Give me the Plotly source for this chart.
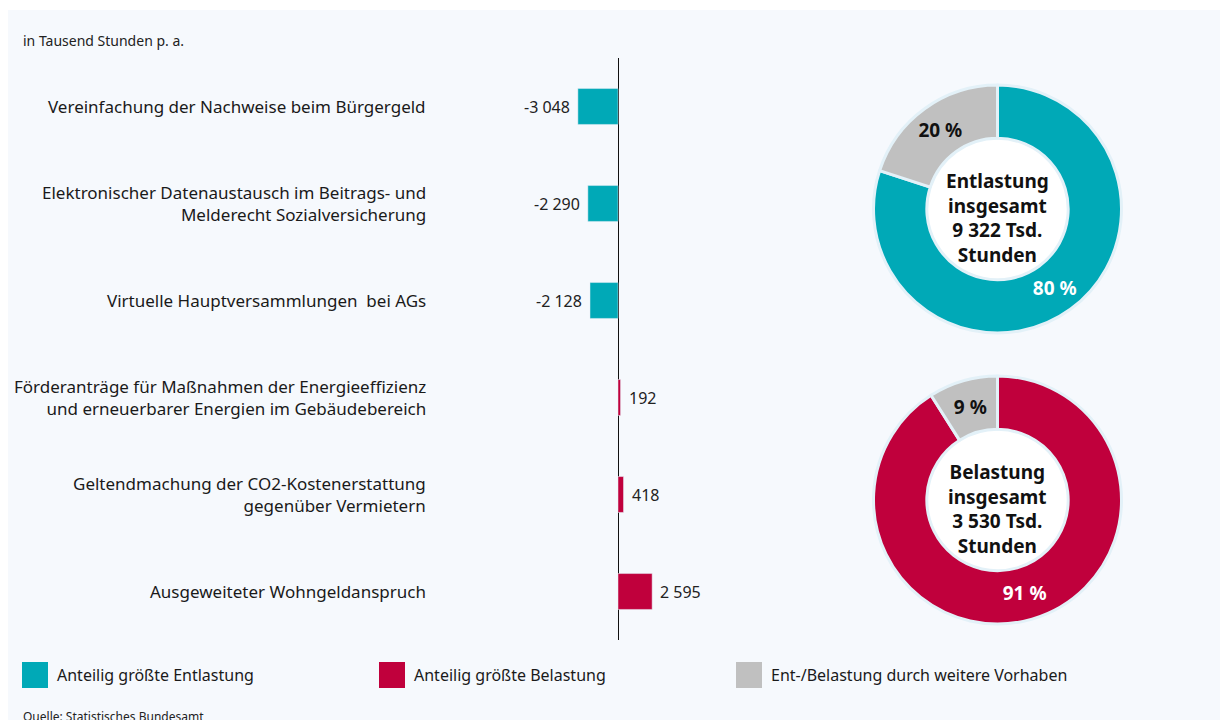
import plotly.graph_objects as go

# Daten
kategorien = [
    "Vereinfachung der Nachweise beim Bürgergeld",
    "Elektronischer Datenaustausch im Beitrags- und<br>Melderecht Sozialversicherung",
    "Virtuelle Hauptversammlungen  bei AGs",
    "Förderanträge für Maßnahmen der Energieeffizienz<br>und erneuerbarer Energien im Gebäudebereich",
    "Geltendmachung der CO2-Kostenerstattung<br>gegenüber Vermietern",
    "Ausgeweiteter Wohngeldanspruch",
]
werte = [-3048, -2290, -2128, 192, 418, 2595]

entlastung_anteile = [80, 20]
belastung_anteile = [91, 9]
entlastung_text = "Entlastung<br>insgesamt<br>9 322 Tsd.<br>Stunden"
belastung_text = "Belastung<br>insgesamt<br>3 530 Tsd.<br>Stunden"

legende = ["Anteilig größte Entlastung", "Anteilig größte Belastung",
           "Ent-/Belastung durch weitere Vorhaben"]

TEAL = "#00a9b7"
ROT = "#c0003c"
GRAU = "#c0c0c0"
BG = "#f6f9fd"
FONT = "Noto Sans"

# die Seite hat 8px Rand, daher etwas kleiner und verschoben rechnen
OX, OY = 8, 8
W, H = 1223, 712


def px(x):
    return (x - OX) / W


def py(y):
    return 1 - (y - OY) / H


def fmt(v):
    s = f"{abs(v):,}".replace(",", " ")
    return ("-" if v < 0 else "") + s


fig = go.Figure()

# Balken
fig.add_trace(go.Bar(
    x=werte, y=kategorien, orientation="h",
    marker_color=[TEAL if v < 0 else ROT for v in werte],
    width=0.37, hoverinfo="skip",
))

# Donuts
for anteile, farbe, y0, y1 in [(entlastung_anteile, TEAL, 85, 333),
                               (belastung_anteile, ROT, 376, 624)]:
    fig.add_trace(go.Pie(
        values=anteile, sort=False, direction="clockwise", rotation=0,
        hole=0.57,
        marker=dict(colors=[farbe, GRAU], line=dict(color="#e3f1f8", width=3)),
        texttemplate=["%{value} %", "%{value} %"],
        textposition="inside", insidetextorientation="horizontal",
        textfont=dict(size=19, family=FONT, color=["white", "#111"], weight="bold"),
        domain=dict(x=[px(873), px(1122)], y=[py(y1), py(y0)]),
        showlegend=False, hoverinfo="skip",
    ))

shapes = [
    dict(type="rect", xref="paper", yref="paper", x0=px(8), x1=px(1220), y0=py(730), y1=py(10),
         fillcolor=BG, line_width=0, layer="below"),
]
for cy in (209, 500):
    shapes.append(dict(type="circle", xref="paper", yref="paper",
                       x0=px(997 - 71), x1=px(997 + 71), y0=py(cy + 71), y1=py(cy - 71),
                       fillcolor="white", line_width=0, layer="below"))

annotations = []
for k, v in zip(kategorien, werte):
    annotations.append(dict(x=px(428), y=k, xref="paper", yref="y", text=k,
                            xanchor="right", yanchor="middle", align="right", showarrow=False,
                            font=dict(size=17, color="#1a1a1a", family=FONT)))
    # Wertbeschriftung neben dem Balken
    annotations.append(dict(x=v, y=k, xref="x", yref="y", text=fmt(v),
                            xanchor="right" if v < 0 else "left", yanchor="middle",
                            xshift=-6 if v < 0 else 6, showarrow=False,
                            font=dict(size=16, color="#222", family=FONT)))
for txt, cy in ((entlastung_text, 218), (belastung_text, 509)):
    annotations.append(dict(x=px(997), y=py(cy), xref="paper", yref="paper", text="<b>" + txt + "</b>",
                            showarrow=False, align="center", xanchor="center", yanchor="middle",
                            font=dict(size=19, color="#111", family=FONT)))

annotations.append(dict(x=px(21), y=py(40), xref="paper", yref="paper",
                        text="in Tausend Stunden p. a.", xanchor="left", yanchor="middle",
                        showarrow=False, font=dict(size=14, color="#222", family=FONT)))
annotations.append(dict(x=px(21), y=py(716), xref="paper", yref="paper",
                        text="Quelle: Statistisches Bundesamt", xanchor="left", yanchor="middle",
                        showarrow=False, font=dict(size=12, color="#222", family=FONT)))

for lbl, farbe, lx in zip(legende, [TEAL, ROT, GRAU], [22, 379, 736]):
    shapes.append(dict(type="rect", xref="paper", yref="paper",
                       x0=px(lx), x1=px(lx + 26), y0=py(688), y1=py(662),
                       fillcolor=farbe, line_width=0))
    annotations.append(dict(x=px(lx + 33), y=py(675), xref="paper", yref="paper",
                            text=lbl, xanchor="left", yanchor="middle", showarrow=False,
                            font=dict(size=16, color="#1a1a1a", family=FONT)))

fig.update_layout(
    width=W, height=H,
    margin=dict(l=0, r=0, t=0, b=0),
    paper_bgcolor="white", plot_bgcolor="rgba(0,0,0,0)",
    font=dict(family=FONT),
    xaxis=dict(domain=[px(500), px(720)], range=[-118 * 76, 102 * 76],
               visible=True, showgrid=False, showticklabels=False, ticks="",
               zeroline=True, zerolinecolor="#111", zerolinewidth=1),
    yaxis=dict(domain=[py(640), py(58)], autorange="reversed",
               showgrid=False, showticklabels=False, ticks="", zeroline=False),
    shapes=shapes, annotations=annotations,
    showlegend=False,
)

fig.write_html("out.html")
